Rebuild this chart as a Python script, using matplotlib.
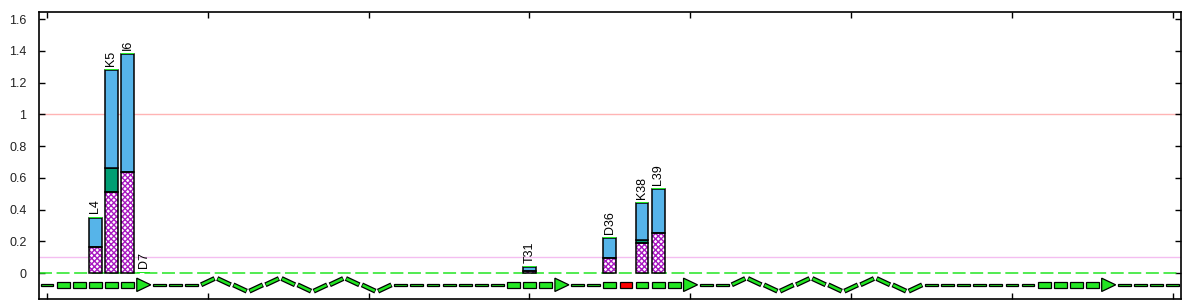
import numpy as np
import matplotlib.pyplot as plt
from matplotlib.patches import Rectangle, Polygon

plt.rcParams['font.family'] = ['Liberation Sans', 'DejaVu Sans']

# per-residue bars
residues = [4, 5, 6, 7, 31, 36, 38, 39]
labels = ['L4', 'K5', 'I6', 'D7', 'T31', 'D36', 'K38', 'L39']
pink_vals = [0.167, 0.514, 0.636, 0.0, 0.015, 0.094, 0.189, 0.252]
teal_vals = [0.0, 0.147, 0.0, 0.0, 0.0, 0.0, 0.021, 0.0]
blue_vals = [0.183, 0.617, 0.743, 0.0, 0.023, 0.127, 0.231, 0.277]
lime_vals = [0.006, 0.006, 0.006, 0.008, 0.006, 0.006, 0.006, 0.006]

# secondary structure, residues 1..71 (C coil, E strand, H helix)
ss = 'C' + 'EEEEEE' + 'CCC' + 'H' * 12 + 'C' * 7 + 'EEEE' + 'CC' + 'EEEEEE' + 'CC' + 'H' * 12 + 'C' * 7 + 'EEEEE' + 'CCCC'
red_residues = [37]

ref_lines = [1.0, 0.1]
ref_colors = ['#FFB4B4', '#F4BEF0']

PINK_EDGE = '#A818C0'
TEAL = '#009E73'
BLUE = '#56B4E9'
LIME = '#22E622'

fig = plt.figure(figsize=(12, 3), dpi=100)
ax = fig.add_axes([0.0325, 0.004, 0.9515, 0.955])

w = 0.8
bottoms = np.zeros(len(residues))
for vals, kind in [(pink_vals, 'pink'), (teal_vals, 'teal'), (blue_vals, 'blue'), (lime_vals, 'lime')]:
    vals = np.array(vals)
    for x, b, v in zip(residues, bottoms, vals):
        if v <= 0:
            continue
        if kind == 'pink':
            ax.add_patch(Rectangle((x - w / 2, b), w, v, facecolor='white', edgecolor=PINK_EDGE,
                                   hatch='xxxxxx', linewidth=0, zorder=3))
            ax.add_patch(Rectangle((x - w / 2, b), w, v, fill=False, edgecolor='black', linewidth=1.1, zorder=4))
        elif kind == 'lime':
            ax.add_patch(Rectangle((x - w / 2, b), w, v, facecolor=LIME, edgecolor='none', zorder=5))
        else:
            c = TEAL if kind == 'teal' else BLUE
            ax.add_patch(Rectangle((x - w / 2, b), w, v, facecolor=c, edgecolor='black', linewidth=1.1, zorder=3))
    bottoms = bottoms + vals

for x, top, lab in zip(residues, bottoms, labels):
    ax.text(x, top + 0.022, lab, rotation=90, ha='center', va='bottom', fontsize=9, zorder=6)

for y, c in zip(ref_lines, ref_colors):
    ax.axhline(y, color=c, lw=1, zorder=1)
ax.axhline(0, color=LIME, lw=1.1, dashes=(8.5, 3), zorder=2)

# secondary structure track
ymid = -0.074
amp = 0.04
i = 0
n = len(ss)
while i < n:
    j = i
    while j < n and ss[j] == ss[i]:
        j += 1
    kind = ss[i]
    for k in range(i, j):
        r = k + 1
        if kind == 'C':
            ax.add_patch(Rectangle((r - 0.4, ymid - 0.007), 0.8, 0.014, facecolor=LIME,
                                   edgecolor='black', linewidth=0.9, zorder=3))
        elif kind == 'E':
            if k == j - 1:
                ax.add_patch(Polygon([(r - 0.42, ymid - 0.042), (r - 0.42, ymid + 0.042), (r + 0.45, ymid)],
                                     closed=True, facecolor=LIME, edgecolor='black', linewidth=0.9, zorder=3))
            else:
                fc = 'red' if r in red_residues else LIME
                ax.add_patch(Rectangle((r - 0.4, ymid - 0.019), 0.8, 0.038, facecolor=fc,
                                       edgecolor='black', linewidth=0.9, zorder=3))
        else:
            levels = [0, 1, 0, -1]
            m = k - i
            y0 = ymid + amp * levels[m % 4]
            y1 = ymid + amp * levels[(m + 1) % 4]
            ax.plot([r - 0.42, r + 0.42], [y0, y1], color='black', lw=3.6, solid_capstyle='butt', zorder=3)
            ax.plot([r - 0.38, r + 0.38], [y0 + (y1 - y0) * 0.05, y1 - (y1 - y0) * 0.05],
                    color=LIME, lw=1.8, solid_capstyle='butt', zorder=4)
    i = j

ax.set_xlim(0.5, 71.5)
ax.set_ylim(-0.162, 1.643)
ax.set_xticks(np.arange(1, 72, 10))
ax.set_xticklabels([])
ax.set_yticks(np.arange(0, 1.61, 0.2))
ax.set_yticklabels(['%g' % round(v, 1) for v in np.arange(0, 1.61, 0.2)])
ax.tick_params(direction='in', length=4, width=1, top=True, right=True, labelsize=9, pad=9,
               labelcolor='#222222')
for s in ax.spines.values():
    s.set_linewidth(1.2)

fig.savefig('out.png', dpi=100)
